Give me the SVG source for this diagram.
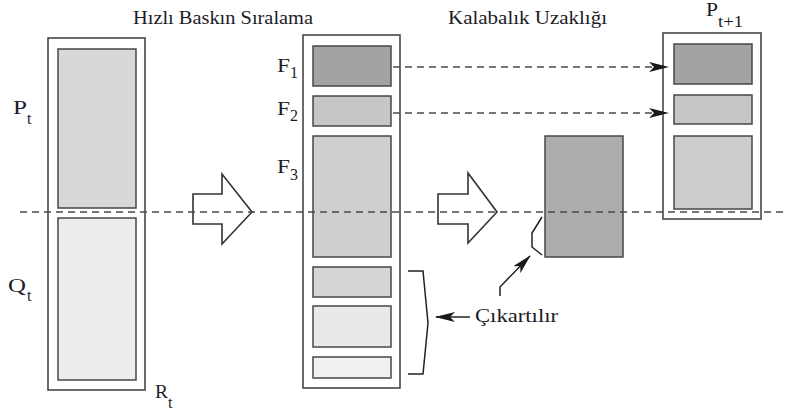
<svg xmlns="http://www.w3.org/2000/svg" width="787" height="412" viewBox="0 0 787 412">
<style>
.box{fill:#fff;stroke:#474747;stroke-width:1.6}
.in{stroke:#474747;stroke-width:1.5}
.dash{stroke:#4a4a4a;stroke-width:1.5;stroke-dasharray:7 5;fill:none}
.ln{stroke:#222;stroke-width:1.5;fill:none}
.big{fill:#fff;stroke:#333;stroke-width:1.6;stroke-linejoin:miter}
text{fill:#1c1c28}
.t{font-size:19px}
.l{font-size:19px}
.s{font-size:16px}
</style>
<defs>
<marker id="ah" viewBox="0 0 20 10" refX="19" refY="5" markerWidth="20" markerHeight="10" markerUnits="userSpaceOnUse" orient="auto">
<path d="M0,0 L20,5 L0,10 L5,5 Z" fill="#1a1a1a"/>
</marker>
</defs>
<rect width="787" height="412" fill="#fff"/>

<g font-family="Liberation Serif, Times New Roman, DejaVu Serif, serif">
<g id="titles">
<text class="t" x="133" y="24" textLength="180" lengthAdjust="spacingAndGlyphs">Hızlı Baskın Sıralama</text>
<text class="t" x="448" y="24" textLength="159" lengthAdjust="spacingAndGlyphs">Kalabalık Uzaklığı</text>
</g>

<g id="Rt">
<rect class="box" x="48" y="38" width="97" height="352"/>
<rect class="in" x="58" y="49" width="78" height="159" fill="#d8d8d8"/>
<rect class="in" x="58" y="218" width="78" height="162" fill="#ececec"/>
<text class="l" x="13" y="114" textLength="14" lengthAdjust="spacingAndGlyphs">P</text><text class="s" x="27" y="124">t</text>
<text class="l" x="8" y="292" textLength="18" lengthAdjust="spacingAndGlyphs">Q</text><text class="s" x="27" y="301">t</text>
<text class="l" x="155" y="398" textLength="13" lengthAdjust="spacingAndGlyphs">R</text><text class="s" x="168" y="408">t</text>
</g>

<g id="arrow1">
<path class="big" d="M193,194 L222,194 L222,174 L252,212 L222,244 L222,224 L193,224 Z"/>
</g>

<g id="sorted">
<rect class="box" x="303" y="35" width="97" height="353"/>
<rect class="in" x="313" y="46" width="78" height="40" fill="#a3a3a3"/>
<rect class="in" x="313" y="96" width="78" height="30" fill="#c6c6c6"/>
<rect class="in" x="313" y="136" width="78" height="121" fill="#cfcfcf"/>
<rect class="in" x="313" y="267" width="78" height="30" fill="#d6d6d6"/>
<rect class="in" x="313" y="306" width="78" height="41" fill="#e9e9e9"/>
<rect class="in" x="313" y="357" width="78" height="21" fill="#f1f1f1"/>
<text class="l" x="277" y="72" textLength="13" lengthAdjust="spacingAndGlyphs">F</text><text class="s" x="290" y="78">1</text>
<text class="l" x="277" y="115" textLength="13" lengthAdjust="spacingAndGlyphs">F</text><text class="s" x="290" y="121">2</text>
<text class="l" x="277" y="173" textLength="13" lengthAdjust="spacingAndGlyphs">F</text><text class="s" x="290" y="180">3</text>
</g>

<g id="arrow2">
<path class="big" d="M438,194 L468,194 L468,173 L497,212 L468,243 L468,224 L438,224 Z"/>
</g>

<g id="crowding">
<rect class="in" x="545" y="136" width="78" height="121" fill="#adadad"/>
</g>

<g id="Pt1">
<rect class="box" x="663" y="33" width="98" height="186"/>
<rect class="in" x="674" y="44" width="78" height="40" fill="#a3a3a3"/>
<rect class="in" x="674" y="95" width="78" height="29" fill="#c6c6c6"/>
<rect class="in" x="674" y="136" width="78" height="73" fill="#cccccc"/>
<text class="l" x="706" y="16" textLength="12" lengthAdjust="spacingAndGlyphs">P</text><text class="s" x="718" y="27" textLength="25" lengthAdjust="spacingAndGlyphs">t+1</text>
</g>

<g id="removed">
<text class="t" x="475" y="322" textLength="83" lengthAdjust="spacingAndGlyphs">Çıkartılır</text>
</g>
</g>

<g id="connectors">
<line class="dash" x1="20" y1="212" x2="787" y2="212"/>
<line class="dash" x1="393" y1="67" x2="668" y2="67" marker-end="url(#ah)"/>
<line class="dash" x1="393" y1="113" x2="668" y2="113" marker-end="url(#ah)"/>
<path class="ln" d="M408,271 L423,271 L428,323 L423,374 L408,374"/>
<line class="ln" x1="470" y1="317" x2="436" y2="317" marker-end="url(#ah)"/>
<path class="ln" d="M542,217 L532,233 L532,247 L542,255"/>
<path class="ln" d="M500,296 L500,287 L530,256" marker-end="url(#ah)"/>
</g>
</svg>
